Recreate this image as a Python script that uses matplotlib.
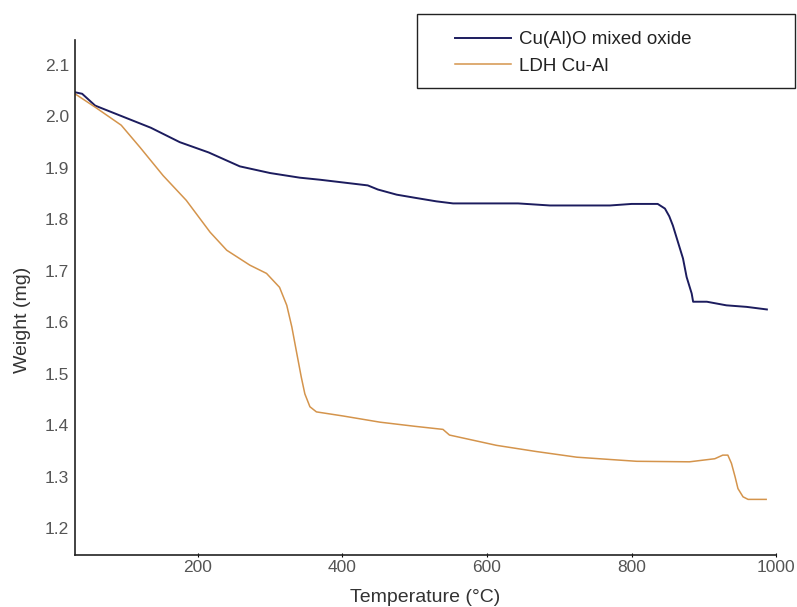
import matplotlib
matplotlib.use("Agg")
import matplotlib.pyplot as plt
from matplotlib.patches import Rectangle

plt.rcParams['font.family'] = ['Liberation Sans', 'DejaVu Sans']

# TGA curves: temperature (°C) vs weight (mg)
oxide_temp = [30, 40, 58, 92, 135, 175, 215, 258, 300, 341, 369, 405, 435,
              449, 475, 500, 530, 553, 600, 643, 687, 730, 770, 800, 836,
              846, 852, 857, 864, 871, 876, 883, 885, 904, 931, 959, 987]
oxide_weight = [2.047, 2.044, 2.021, 2.002, 1.978, 1.950, 1.930, 1.903, 1.890,
                1.881, 1.877, 1.871, 1.866, 1.858, 1.848, 1.842, 1.835, 1.831,
                1.831, 1.831, 1.827, 1.827, 1.827, 1.830, 1.830, 1.821, 1.806,
                1.788, 1.756, 1.724, 1.688, 1.656, 1.640, 1.640, 1.633, 1.630,
                1.625]

ldh_temp = [30, 58, 94, 120, 152, 184, 217, 240, 272, 295, 313, 323, 330,
            336, 343, 348, 355, 364, 401, 452, 500, 539, 548, 613, 668, 724,
            765, 807, 880, 915, 926, 933, 938, 943, 947, 954, 961, 986]
ldh_weight = [2.044, 2.018, 1.983, 1.940, 1.885, 1.837, 1.775, 1.740, 1.711,
              1.695, 1.668, 1.633, 1.591, 1.546, 1.494, 1.461, 1.436, 1.426,
              1.418, 1.406, 1.398, 1.392, 1.381, 1.361, 1.349, 1.338, 1.334,
              1.330, 1.329, 1.335, 1.342, 1.342, 1.326, 1.300, 1.277, 1.261,
              1.256, 1.256]

x_ticks = [200, 400, 600, 800, 1000]
y_ticks = [1.2, 1.3, 1.4, 1.5, 1.6, 1.7, 1.8, 1.9, 2.0, 2.1]

fig = plt.figure(figsize=(7.97, 6.07), dpi=100)
ax = fig.add_axes([0.094, 0.0857, 0.88, 0.848])

ax.plot(oxide_temp, oxide_weight, color='#1c1c5e', lw=1.4,
        label='Cu(Al)O mixed oxide')
ax.plot(ldh_temp, ldh_weight, color='#d4944c', lw=1.1, label='LDH Cu-Al')

ax.set_xlim(30, 1000)
ax.set_ylim(1.148, 2.148)
ax.set_xticks(x_ticks)
ax.set_yticks(y_ticks)
ax.set_yticklabels([f"{v:.1f}" for v in y_ticks])

for side in ['top', 'right']:
    ax.spines[side].set_visible(False)
for side in ['left', 'bottom']:
    ax.spines[side].set_linewidth(1.2)
    ax.spines[side].set_color('#222222')

ax.tick_params(axis='y', length=0, pad=4, labelsize=12.5, labelcolor='#555555')
ax.tick_params(axis='x', length=3, direction='inout', pad=2, labelsize=12.5,
               labelcolor='#555555')

ax.set_xlabel('Temperature (°C)', fontsize=14, color='#333333', labelpad=10)
ax.set_ylabel('Weight (mg)', fontsize=14, color='#333333')
ax.yaxis.set_label_coords(-0.062, 0.456)

# legend box drawn separately so it can be wider than its contents
fig.patches.append(Rectangle((0.523, 0.855), 0.4745, 0.122,
                             transform=fig.transFigure, fill=False,
                             edgecolor='#222222', linewidth=1.0))
leg = fig.legend(loc='upper left', bbox_to_anchor=(0.571, 0.949),
                 frameon=False, fontsize=13.5, handlelength=3.0,
                 handletextpad=0.4, borderpad=0, borderaxespad=0,
                 labelspacing=0.5)
for t in leg.get_texts():
    t.set_color('#222222')

fig.savefig('out.png', dpi=100)
